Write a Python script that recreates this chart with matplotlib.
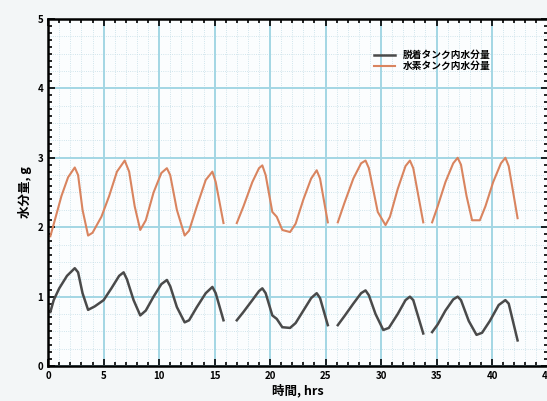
import numpy as np
import matplotlib.pyplot as plt
from matplotlib.ticker import MultipleLocator

plt.rcParams['font.family'] = ['Noto Sans CJK JP', 'DejaVu Sans']

# 水素タンク (orange) - segments separated by gaps
h2_t = [
    [0.2, 0.6, 1.2, 1.8, 2.4, 2.7, 3.1, 3.6, 4.0, 4.8, 5.5, 6.2, 6.9, 7.3, 7.8, 8.3, 8.8, 9.5, 10.2,
     10.7, 11.0, 11.6, 12.3, 12.7, 13.4, 14.2, 14.8, 15.1, 15.8],
    [17.0, 17.6, 18.4, 19.0, 19.3, 19.6, 20.2, 20.6, 21.1, 21.8, 22.3, 23.0, 23.7, 24.2, 24.5, 25.2],
    [26.1, 26.7, 27.5, 28.2, 28.6, 28.9, 29.7, 30.4, 30.8, 31.5, 32.2, 32.6, 32.9, 33.8],
    [34.6, 35.1, 35.8, 36.5, 36.9, 37.2, 37.7, 38.2, 38.9, 39.4, 40.1, 40.8, 41.2, 41.5, 42.3],
]
h2_v = [
    [1.87, 2.1, 2.45, 2.72, 2.86, 2.75, 2.25, 1.88, 1.92, 2.15, 2.45, 2.8, 2.96, 2.8, 2.3, 1.96, 2.1, 2.5, 2.78,
     2.85, 2.75, 2.25, 1.88, 1.95, 2.3, 2.68, 2.8, 2.65, 2.06],
    [2.06, 2.3, 2.65, 2.85, 2.89, 2.75, 2.22, 2.15, 1.96, 1.93, 2.05, 2.4, 2.7, 2.82, 2.7, 2.07],
    [2.07, 2.35, 2.7, 2.92, 2.96, 2.85, 2.22, 2.03, 2.15, 2.55, 2.88, 2.96, 2.85, 2.07],
    [2.07, 2.3, 2.65, 2.92, 3.0, 2.9, 2.45, 2.1, 2.1, 2.3, 2.65, 2.92, 3.0, 2.88, 2.13],
]

# 脱着タンク (dark gray)
dh_t = [
    [0.2, 0.5, 1.0, 1.7, 2.4, 2.7, 3.1, 3.6, 4.2, 5.0, 5.7, 6.4, 6.8, 7.1, 7.7, 8.3, 8.8, 9.5, 10.2,
     10.7, 11.0, 11.6, 12.3, 12.7, 13.4, 14.2, 14.8, 15.1, 15.8],
    [17.0, 17.6, 18.4, 19.0, 19.3, 19.6, 20.2, 20.6, 21.1, 21.8, 22.3, 23.0, 23.7, 24.2, 24.5, 25.2],
    [26.1, 26.7, 27.5, 28.2, 28.6, 28.9, 29.5, 30.2, 30.7, 31.5, 32.2, 32.6, 32.9, 33.8],
    [34.6, 35.1, 35.8, 36.5, 36.9, 37.2, 37.9, 38.6, 39.1, 39.8, 40.6, 41.2, 41.5, 42.3],
]
dh_v = [
    [0.78, 0.95, 1.12, 1.3, 1.41, 1.35, 1.05, 0.81, 0.86, 0.95, 1.12, 1.3, 1.35, 1.25, 0.95, 0.73, 0.8, 1.0, 1.18,
     1.24, 1.15, 0.85, 0.63, 0.66, 0.85, 1.05, 1.14, 1.05, 0.66],
    [0.66, 0.78, 0.95, 1.08, 1.12, 1.05, 0.73, 0.68, 0.56, 0.55, 0.62, 0.8, 0.98, 1.05, 0.98, 0.59],
    [0.59, 0.72, 0.9, 1.05, 1.09, 1.02, 0.75, 0.52, 0.55, 0.75, 0.95, 1.0, 0.95, 0.47],
    [0.49, 0.6, 0.8, 0.96, 1.0, 0.95, 0.65, 0.45, 0.48, 0.65, 0.88, 0.95, 0.9, 0.37],
]

labels = ['脱着タンク内水分量', '水素タンク内水分量']
dark = '#4a4a4a'
orange = '#d9845f'

fig = plt.figure(figsize=(5.47, 4.01), dpi=100, facecolor='#f3f6f7')
ax = fig.add_axes([0.088, 0.087, 0.913, 0.866])
ax.set_facecolor('#fbfdfe')

for i, (t, v) in enumerate(zip(dh_t, dh_v)):
    ax.plot(t, v, color=dark, lw=1.8, label=labels[0] if i == 0 else None)
for i, (t, v) in enumerate(zip(h2_t, h2_v)):
    ax.plot(t, v, color=orange, lw=1.5, label=labels[1] if i == 0 else None)

ax.set_xlim(0, 45)
ax.set_ylim(0, 5)
ax.xaxis.set_major_locator(MultipleLocator(5))
ax.xaxis.set_minor_locator(MultipleLocator(1))
ax.yaxis.set_major_locator(MultipleLocator(1))
ax.yaxis.set_minor_locator(MultipleLocator(0.1))

ax.grid(which='major', color='#a3d6e4', lw=1.4)
ax.grid(which='minor', axis='x', color='#c3dde6', lw=0.6, ls=':')
ax.yaxis.grid(False, which='minor')
for yv in np.arange(0.25, 5, 0.25):
    if yv % 1:
        ax.axhline(yv, color='#c3dde6', lw=0.6, ls=':', zorder=0)
ax.set_axisbelow(True)

ax.tick_params(which='both', direction='in', top=True, right=True, width=1.2)
ax.tick_params(which='major', length=5, labelsize=7)
ax.tick_params(which='minor', length=3)
for lab in ax.get_xticklabels() + ax.get_yticklabels():
    lab.set_fontweight('bold')
for s in ax.spines.values():
    s.set_linewidth(1.8)

ax.set_xlabel('時間, hrs', fontsize=9, fontweight='bold', labelpad=2)
ax.set_ylabel('水分量, g', fontsize=9, fontweight='bold', labelpad=4)

leg = ax.legend(loc='upper right', bbox_to_anchor=(0.9, 0.93), frameon=False,
                fontsize=7, handlelength=2.2, labelspacing=0.1, borderpad=0.2)
for txt in leg.get_texts():
    txt.set_fontweight('bold')

fig.savefig('out.png', dpi=100, facecolor=fig.get_facecolor())
